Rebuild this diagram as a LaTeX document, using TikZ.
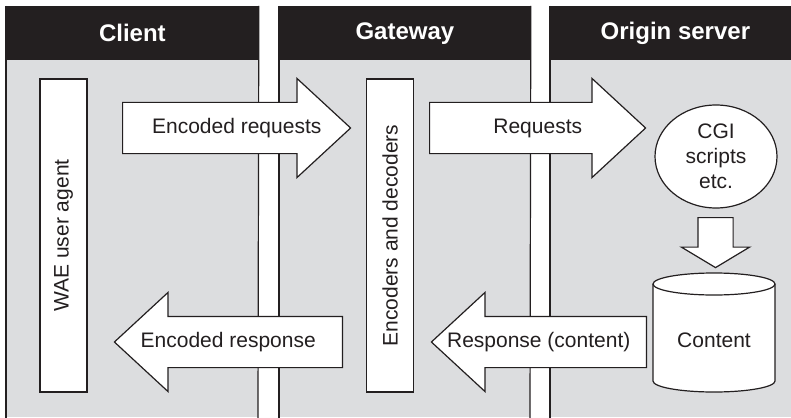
\documentclass[tikz,border=0pt]{standalone}
\usepackage{fontspec}
\setmainfont{Liberation Sans}
\usetikzlibrary{shapes.arrows,shapes.geometric,positioning}

\definecolor{inkdark}{HTML}{231F20}
\definecolor{panelgray}{HTML}{DCDDDF}

\tikzset{
    panelhead/.style={fill=inkdark, text=white, inner sep=0pt, anchor=north west,
        minimum height=27pt, font=\fontsize{12}{14}\selectfont\bfseries},
    panelside/.style={draw=inkdark, line width=0.6pt},
    agentbox/.style={draw=inkdark, fill=white, line width=0.6pt, rotate=90,
        minimum width=156.5pt, minimum height=23.5pt, inner sep=0pt},
    blockarrow/.style={single arrow, draw=inkdark, fill=white, line width=0.6pt,
        minimum width=49pt, single arrow head extend=12pt, single arrow tip angle=85.5,
        text height=8pt, text depth=2.5pt, inner ysep=7.25pt, inner xsep=0pt, anchor=tail},
}

\begin{document}
\begin{tikzpicture}[x=0.5pt, y=-0.5pt, text=inkdark, font=\fontsize{10.5}{12.6}\selectfont]
    \useasboundingbox (0,0) rectangle (791,417);
    % panels
    \fill[panelgray] (6,60) rectangle (258,417);
    \fill[panelgray] (279,60) rectangle (530,417);
    \fill[panelgray] (550,60) rectangle (800,417);
    \node[panelhead, minimum width=126pt] (clienthead) at (6,6) {Client};
    \node[panelhead, minimum width=125.5pt] (gatehead) at (279,6) {Gateway};
    \node[panelhead, minimum width=125pt] (originhead) at (550,6) {Origin server};
    \coordinate (clientfoot) at (6,420);
    \coordinate (clientfootr) at (258,420);
    \coordinate (gatefoot) at (279,420);
    \coordinate (gatefootr) at (530,420);
    \coordinate (originfoot) at (550,420);
    \draw[panelside] (clienthead.north west) -- (clientfoot);
    \draw[panelside] (clienthead.north east) -- (clientfootr);
    \draw[panelside] (gatehead.north west) -- (gatefoot);
    \draw[panelside] (gatehead.north east) -- (gatefootr);
    \draw[panelside] (originhead.north west) -- (originfoot);

    % vertical boxes
    \node[agentbox] (wae) at (63.5,235.5) {WAE user agent};
    \node[agentbox] (codec) at (390,235.5) {Encoders and decoders};

    % request and response arrows (text centred on the whole arrow)
    \node[blockarrow, minimum height=114pt, label={[xshift=7pt]center:Encoded requests}] (encreq) at (122,128) {};
    \node[blockarrow, minimum height=108pt, label={[xshift=7pt]center:Requests}] (req) at (429,128) {};
    \node[blockarrow, shape border rotate=180, minimum height=114pt,
        label={[xshift=-7pt]center:Encoded response}] (encresp) at (343,342) {};
    \node[blockarrow, shape border rotate=180, minimum height=107.5pt,
        label={[xshift=-7pt]center:Response (content)}] (resp) at (647,342) {};

    % origin server side
    \node[ellipse, draw=inkdark, fill=white, line width=0.6pt, minimum width=61pt,
        minimum height=51.5pt, inner sep=0pt, align=center] (cgi) at (716,156.5) {CGI\\scripts\\etc.};
    \node[single arrow, draw=inkdark, fill=white, line width=0.6pt, rotate=-90,
        minimum height=25pt, minimum width=33.5pt, single arrow head extend=8.25pt,
        single arrow tip angle=118, inner xsep=0pt, inner ysep=8.5pt, anchor=tail] (fetch) at (715.5,217) {};
    % content store
    \filldraw[draw=inkdark, fill=white, line width=0.6pt] (653,284) -- (653,381)
        arc[start angle=180, end angle=0, x radius=61, y radius=11] -- (775,284)
        arc[start angle=0, end angle=-180, x radius=61, y radius=11] -- cycle;
    \draw[inkdark, line width=0.6pt] (653,284) arc[start angle=180, end angle=0, x radius=61, y radius=11];
    \node (content) at (714,340) {Content};
\end{tikzpicture}
\end{document}
